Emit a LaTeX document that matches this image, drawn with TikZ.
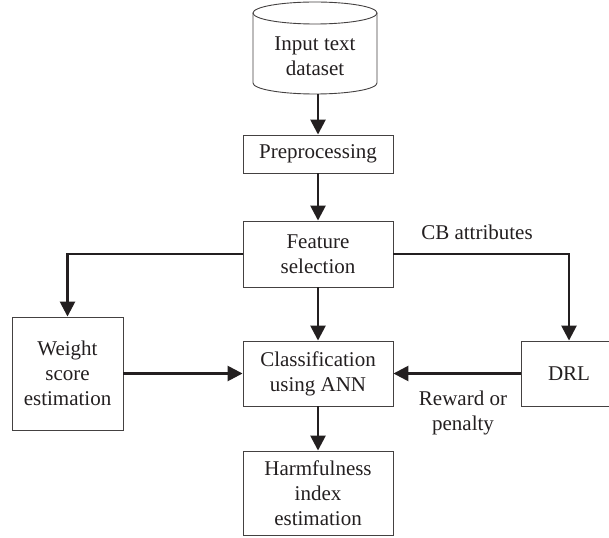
\documentclass[tikz,border=0pt]{standalone}
\usepackage{fontspec}
\setmainfont{Liberation Serif}
\usetikzlibrary{arrows.meta}
\definecolor{ink}{HTML}{231F20}
\begin{document}
\begin{tikzpicture}[x=1pt,y=-1pt,
  font=\fontsize{21}{25}\selectfont, text=ink,
  box/.style={draw=ink!85, line width=0.9pt, align=center, inner sep=0pt},
  conn/.style={draw=ink, line width=2.6pt, -{Triangle[length=15pt,width=15pt]}},
  lbl/.style={align=center, inner sep=0pt}]
\clip (0,0) rectangle (609,537);
\useasboundingbox (0,0) rectangle (609,537);
% cylinder
\draw[draw=ink!85, line width=0.9pt, fill=white]
  (253,13) -- (253,83) arc[start angle=180, end angle=0, x radius=62, y radius=11]
  -- (377,13);
\draw[draw=ink!85, line width=0.9pt] (315,13) ellipse[x radius=62, y radius=11];
\node[lbl] (db) at (315,56) {Input text\\dataset};
\coordinate (dbb) at (318,94);
% boxes
\node[box, minimum width=150pt, minimum height=38pt] (pre) at (318,154) {Preprocessing};
\node[box, minimum width=150pt, minimum height=66pt] (feat) at (318,254) {Feature\\selection};
\node[box, minimum width=150pt, minimum height=65pt] (cls) at (318,373.5) {Classification\\using ANN};
\node[box, minimum width=150pt, minimum height=84pt] (harm) at (318,493) {Harmfulness\\index\\estimation};
\node[box, minimum width=111pt, minimum height=113pt] (wt) at (67.5,373.5) {Weight\\score\\estimation};
\node[box, minimum width=96pt, minimum height=65pt] (drl) at (569,373.5) {DRL};
% labels
\node[lbl] (cb) at (477,232) {CB attributes};
\node[lbl] (rp) at (463,413) {Reward or\\penalty};
% connectors
\draw[conn] (dbb) -- (pre.north);
\draw[conn] (pre.south) -- (feat.north);
\draw[conn] (feat.south) -- (cls.north);
\draw[conn] (cls.south) -- (harm.north);
\draw[conn] (feat.west) -| (wt.north);
\draw[conn] (feat.east) -| (drl.north);
\draw[conn] (wt.east) -- (cls.west);
\draw[conn] (drl.west) -- (cls.east);
\end{tikzpicture}
\end{document}
